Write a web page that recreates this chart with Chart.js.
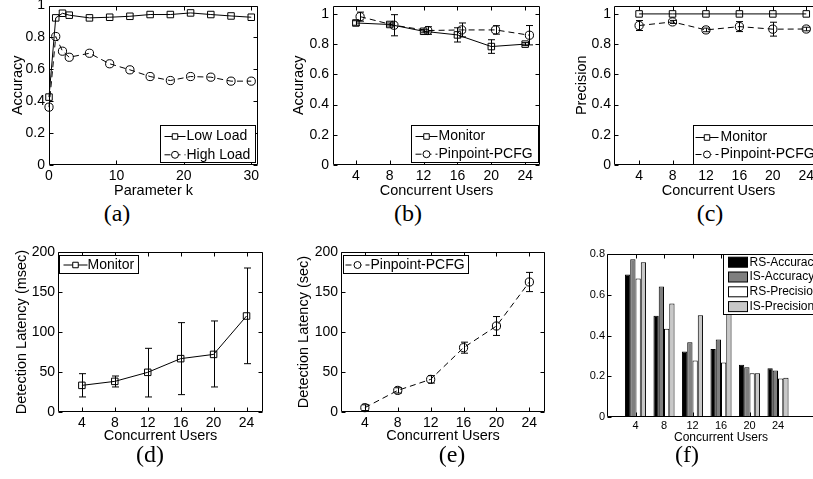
<!DOCTYPE html>
<html>
<head>
<meta charset="utf-8">
<script src="https://cdn.jsdelivr.net/npm/chart.js@4/dist/chart.umd.min.js"></script>
<style>
  body { margin: 0; width: 813px; height: 479px; overflow: hidden; background: #fff; position: relative; }
  canvas { position: absolute; }
  .cap { position: absolute; font-family: "Liberation Serif", "Times New Roman", serif; font-size: 24px;
         line-height: 24px; transform: translate(-50%, -50%); white-space: nowrap; }
</style>
</head>
<body>
<canvas id="ca"></canvas>
<canvas id="cb"></canvas>
<canvas id="cc"></canvas>
<canvas id="cd"></canvas>
<canvas id="ce"></canvas>
<canvas id="cf"></canvas>
<div class="cap" style="left:117px;top:213px">(a)</div>
<div class="cap" style="left:408px;top:213px">(b)</div>
<div class="cap" style="left:710px;top:213px">(c)</div>
<div class="cap" style="left:150px;top:454px">(d)</div>
<div class="cap" style="left:452px;top:454px">(e)</div>
<div class="cap" style="left:687px;top:454px">(f)</div>
<script>
// (a) accuracy vs parameter k
const kValues = [0, 1, 2, 3, 6, 9, 12, 15, 18, 21, 24, 27, 30];
const lowLoad = [0.426, 0.923, 0.952, 0.940, 0.923, 0.927, 0.933, 0.944, 0.944, 0.954, 0.944, 0.935, 0.927];
const highLoad = [0.363, 0.806, 0.714, 0.676, 0.701, 0.635, 0.597, 0.555, 0.530, 0.555, 0.551, 0.526, 0.526];

// (b)-(f) concurrent users
const users = [4, 8, 12, 16, 20, 24];
const monitorAcc = [0.94, 0.93, 0.885, 0.861, 0.784, 0.80];
const monitorAccErr = [0.015, 0.01, 0.01, 0.047, 0.045, 0.01];
const pcfgAcc = [0.982, 0.925, 0.89, 0.894, 0.894, 0.859];
const pcfgAccErr = [0.03, 0.07, 0.025, 0.046, 0.028, 0.064];

const monitorPrec = [1, 1, 1, 1, 1, 1];
const pcfgPrec = [0.923, 0.947, 0.894, 0.916, 0.899, 0.90];
const pcfgPrecErr = [0.033, 0.01, 0.012, 0.033, 0.046, 0.012];

const monitorLat = [33.3, 38.3, 49.6, 66.7, 72, 120];
const monitorLatLow = [18.8, 31.3, 18.8, 21.7, 31.3, 60.4];
const monitorLatHigh = [47.9, 45, 79.6, 111.7, 113.8, 180];
const pcfgLat = [5.4, 27, 40.8, 80.4, 107.5, 162.5];
const pcfgLatErr = [3.6, 3.3, 4.6, 6.9, 11.8, 12];

const rsAcc = [0.70, 0.497, 0.321, 0.334, 0.257, 0.239];
const isAcc = [0.774, 0.641, 0.367, 0.38, 0.244, 0.228];
const rsPrec = [0.68, 0.433, 0.277, 0.267, 0.215, 0.189];
const isPrec = [0.76, 0.557, 0.50, 0.60, 0.215, 0.193];

const pcfgShiftB = 0.5; // pinpoint points drawn a bit right of the monitor ones in (b)

Chart.defaults.font.family = '"Liberation Sans", Arial, sans-serif';
Chart.defaults.color = '#000';
Chart.defaults.animation = false;

// box around the plot with inward ticks on all sides
const matlabBox = {
  id: 'matlabBox',
  afterDatasetsDraw(chart) {
    const {ctx, chartArea: a, scales: {x, y}} = chart;
    const len = 4;
    const L = Math.round(a.left) + 0.5, R = Math.round(a.right) - 0.5;
    const T = Math.round(a.top) + 0.5, B = Math.round(a.bottom) - 0.5;
    ctx.save();
    ctx.strokeStyle = '#000';
    ctx.lineWidth = 1;
    ctx.setLineDash([]);
    ctx.beginPath();
    x.ticks.forEach(t => {
      const px = Math.round(x.getPixelForValue(t.value)) + 0.5;
      ctx.moveTo(px, B); ctx.lineTo(px, B - len);
      ctx.moveTo(px, T); ctx.lineTo(px, T + len);
    });
    y.ticks.forEach(t => {
      const py = Math.round(y.getPixelForValue(t.value)) + 0.5;
      ctx.moveTo(L, py); ctx.lineTo(L + len, py);
      ctx.moveTo(R, py); ctx.lineTo(R - len, py);
    });
    ctx.rect(L, T, R - L, B - T);
    ctx.stroke();
    ctx.restore();
  }
};

// vertical error bars with small caps
const errorBars = {
  id: 'errorBars',
  afterDatasetsDraw(chart) {
    const {ctx} = chart;
    const yScale = chart.scales.y;
    chart.data.datasets.forEach((ds, i) => {
      if (!ds.errLow) return;
      const meta = chart.getDatasetMeta(i);
      ctx.save();
      ctx.strokeStyle = '#000';
      ctx.lineWidth = 1;
      ctx.setLineDash([]);
      ctx.beginPath();
      meta.data.forEach((pt, j) => {
        const x = Math.round(pt.x) + 0.5;
        const lo = yScale.getPixelForValue(ds.errLow[j]);
        const hi = yScale.getPixelForValue(ds.errHigh[j]);
        const cap = 3.5;
        ctx.moveTo(x, lo); ctx.lineTo(x, hi);
        ctx.moveTo(x - cap, lo); ctx.lineTo(x + cap, lo);
        ctx.moveTo(x - cap, hi); ctx.lineTo(x + cap, hi);
      });
      ctx.stroke();
      ctx.restore();
    });
  }
};

// boxed legend inside the plot, drawn over everything
const boxLegend = {
  id: 'boxLegend',
  afterDraw(chart, args, o) {
    if (!o || o.width === undefined) return;
    const {ctx, chartArea: a} = chart;
    const bx = Math.round(a.left + o.left) + 0.5;
    const by = Math.round(a.top + o.top) + 0.5;
    ctx.save();
    ctx.fillStyle = '#fff';
    ctx.fillRect(bx, by, o.width, o.height);
    ctx.strokeStyle = '#000';
    ctx.lineWidth = 1;
    ctx.strokeRect(bx, by, o.width, o.height);
    ctx.font = o.font;
    ctx.textBaseline = 'middle';
    chart.data.datasets.forEach((ds, i) => {
      const cy = by + o.rowTop + i * o.rowGap;
      ctx.strokeStyle = '#000';
      if (o.swatch) {
        ctx.fillStyle = ds.backgroundColor;
        ctx.fillRect(bx + o.lineFrom, cy - 5, o.lineTo - o.lineFrom, 10);
        ctx.strokeRect(bx + o.lineFrom, cy - 5, o.lineTo - o.lineFrom, 10);
      } else {
        ctx.setLineDash(ds.borderDash || []);
        ctx.beginPath();
        ctx.moveTo(bx + o.lineFrom, cy);
        ctx.lineTo(bx + o.lineTo, cy);
        ctx.stroke();
        ctx.setLineDash([]);
        const mx = bx + (o.lineFrom + o.lineTo) / 2;
        ctx.fillStyle = '#fff';
        ctx.beginPath();
        if (ds.pointStyle === 'rect') {
          const s = ds.pointRadius * Math.SQRT1_2 * 0.85;
          ctx.rect(mx - s, cy - s, 2 * s, 2 * s);
        } else {
          ctx.arc(mx, cy, ds.pointRadius * 0.85, 0, Math.PI * 2);
        }
        ctx.fill();
        ctx.stroke();
      }
      ctx.fillStyle = '#000';
      ctx.fillText(ds.label, bx + o.textX, cy);
    });
    ctx.restore();
  }
};

const tickText = v => String(+Number(v).toFixed(2));

function axis(opt, isX, size) {
  return {
    type: 'linear',
    min: opt.min, max: opt.max,
    offset: false,
    grid: {display: false, drawTicks: false, offset: false},
    border: {display: false},
    afterBuildTicks: opt.ticks ? (s => { s.ticks = opt.ticks.map(v => ({value: v})); }) : undefined,
    ticks: {stepSize: opt.step, includeBounds: false, padding: opt.pad, autoSkip: false, maxRotation: 0,
            font: {size: opt.font || 14}, color: '#000', callback: tickText},
    title: {display: !!opt.title, text: opt.title, padding: 0, font: {size: opt.titleFont || 14.5}, color: '#000'},
    afterFit(s) {
      s.paddingLeft = s.paddingRight = s.paddingTop = s.paddingBottom = 0;
      if (isX) s.height = size; else s.width = size;
    }
  };
}

function lineSet(label, xs, ys, marker, dashed, extra) {
  return Object.assign({
    label: label,
    data: xs.map((x, i) => ({x: x, y: ys[i]})),
    borderColor: '#000',
    borderWidth: 1,
    borderDash: dashed ? [6, 4] : [],
    pointStyle: marker,
    pointRadius: marker === 'rect' ? 4.6 : 4.1,
    pointBorderColor: '#000',
    pointBorderWidth: 1,
    pointBackgroundColor: 'rgba(255,255,255,0)',
    fill: false,
    tension: 0,
    clip: false
  }, extra || {});
}

function panel(id, box, m, type, datasets, xAxis, yAxis, legend) {
  const cv = document.getElementById(id);
  cv.width = box.r - box.l + m.l + m.r;
  cv.height = box.b - box.t + m.t + m.b;
  cv.style.left = (box.l - m.l) + 'px';
  cv.style.top = (box.t - m.t) + 'px';
  new Chart(cv, {
    type: type,
    data: {datasets: datasets},
    options: {
      responsive: false,
      devicePixelRatio: 1,
      layout: {padding: {top: m.t, right: m.r, left: 0, bottom: 0}},
      plugins: {legend: {display: false}, tooltip: {enabled: false}, boxLegend: legend},
      scales: {x: axis(xAxis, true, m.b), y: axis(yAxis, false, m.l)}
    },
    plugins: [matlabBox, errorBars, boxLegend]
  });
}

const lineLegendFont = '14px "Liberation Sans", Arial, sans-serif';

// (a)
panel('ca', {l: 49, t: 5, r: 258, b: 165}, {l: 40, t: 5, r: 8, b: 35}, 'line', [
  lineSet('Low Load', kValues, lowLoad, 'rect', false),
  lineSet('High Load', kValues, highLoad, 'circle', true)
], {min: 0, max: 31, step: 10, pad: 3, title: 'Parameter k'},
   {min: 0, max: 1, step: 0.2, pad: 4, title: 'Accuracy'},
   {left: 111, top: 119, width: 95, height: 37, rowTop: 11, rowGap: 18.3, lineFrom: 4, lineTo: 25, textX: 26, font: lineLegendFont});

// (b)
panel('cb', {l: 333, t: 5, r: 540, b: 165}, {l: 43, t: 5, r: 8, b: 35}, 'line', [
  lineSet('Monitor', users, monitorAcc, 'rect', false, {
    errLow: monitorAcc.map((v, i) => v - monitorAccErr[i]), errHigh: monitorAcc.map((v, i) => v + monitorAccErr[i])}),
  lineSet('Pinpoint-PCFG', users.map(u => u + pcfgShiftB), pcfgAcc, 'circle', true, {
    errLow: pcfgAcc.map((v, i) => v - pcfgAccErr[i]), errHigh: pcfgAcc.map((v, i) => v + pcfgAccErr[i])})
], {min: 1.3, max: 25.75, step: 4, pad: 3, title: 'Concurrent Users'},
   {min: 0, max: 1.055, step: 0.2, pad: 4, title: 'Accuracy'},
   {left: 78, top: 119, width: 127, height: 37, rowTop: 11, rowGap: 17.7, lineFrom: 4, lineTo: 26, textX: 27, font: lineLegendFont});

// (c)
panel('cc', {l: 614, t: 5, r: 823, b: 165}, {l: 41, t: 5, r: 8, b: 35}, 'line', [
  lineSet('Monitor', users, monitorPrec, 'rect', false),
  lineSet('Pinpoint-PCFG', users, pcfgPrec, 'circle', true, {
    errLow: pcfgPrec.map((v, i) => v - pcfgPrecErr[i]), errHigh: pcfgPrec.map((v, i) => v + pcfgPrecErr[i])})
], {min: 1, max: 26, step: 4, pad: 3, title: 'Concurrent Users'},
   {min: 0, max: 1.055, step: 0.2, pad: 3, title: 'Precision'},
   {left: 79, top: 119, width: 130, height: 39, rowTop: 12, rowGap: 17, lineFrom: 2, lineTo: 25, textX: 27, font: lineLegendFont});

// (d)
panel('cd', {l: 58, t: 252, r: 263, b: 412}, {l: 45, t: 6, r: 8, b: 33}, 'line', [
  lineSet('Monitor', users, monitorLat, 'rect', false, {errLow: monitorLatLow, errHigh: monitorLatHigh})
], {min: 1.1, max: 26, step: 4, pad: 3, title: 'Concurrent Users'},
   {min: 0, max: 200, step: 50, pad: 3, title: 'Detection Latency (msec)'},
   {left: 1, top: 3, width: 79, height: 18, rowTop: 9.5, rowGap: 0, lineFrom: 4, lineTo: 28, textX: 28, font: lineLegendFont});

// (e)
panel('ce', {l: 341, t: 252, r: 545, b: 412}, {l: 46, t: 6, r: 8, b: 33}, 'line', [
  lineSet('Pinpoint-PCFG', users, pcfgLat, 'circle', true, {
    errLow: pcfgLat.map((v, i) => v - pcfgLatErr[i]), errHigh: pcfgLat.map((v, i) => v + pcfgLatErr[i])})
], {min: 1.1, max: 25.9, step: 4, pad: 3, title: 'Concurrent Users'},
   {min: 0, max: 200, step: 50, pad: 3, title: 'Detection Latency (sec)'},
   {left: 2, top: 3, width: 125, height: 18, rowTop: 9.5, rowGap: 0, lineFrom: 2, lineTo: 26, textX: 27, font: lineLegendFont});

// (f)
function barSet(label, ys, color) {
  return {
    label: label,
    data: users.map((u, i) => ({x: u, y: ys[i]})),
    backgroundColor: color,
    borderColor: '#000',
    borderWidth: 1,
    categoryPercentage: 0.74,
    barPercentage: 1
  };
}
panel('cf', {l: 607, t: 254, r: 835, b: 417}, {l: 30, t: 6, r: 8, b: 28}, 'bar', [
  barSet('RS-Accuracy', rsAcc, '#000000'),
  barSet('IS-Accuracy', isAcc, '#7f7f7f'),
  barSet('RS-Precision', rsPrec, '#ffffff'),
  barSet('IS-Precision', isPrec, '#c8c8c8')
], {min: 0, max: 32, ticks: users, pad: 2, font: 11, title: 'Concurrent Users', titleFont: 12},
   {min: 0, max: 0.8, step: 0.2, pad: 2, font: 11},
   {left: 116, top: 0, width: 110, height: 60, rowTop: 7.7, rowGap: 14.8, lineFrom: 5, lineTo: 24, textX: 26, swatch: true,
    font: '12px "Liberation Sans", Arial, sans-serif'});
</script>
</body>
</html>
